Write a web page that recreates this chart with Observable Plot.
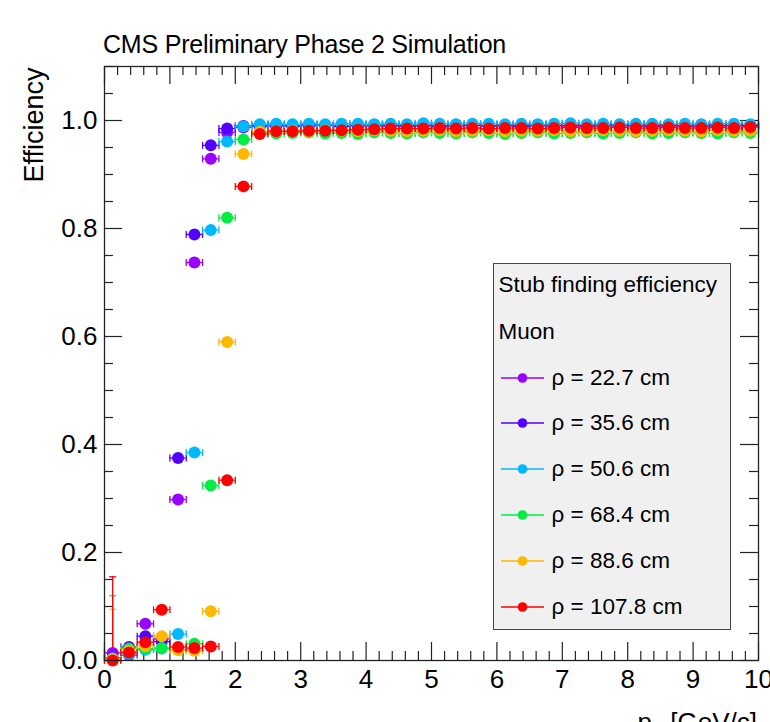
<!DOCTYPE html>
<html>
<head>
<meta charset="utf-8">
<script src="https://cdn.jsdelivr.net/npm/d3@7"></script>
<script src="https://cdn.jsdelivr.net/npm/@observablehq/plot@0.6"></script>
<style>
  html, body { margin: 0; padding: 0; background: #fff; overflow: hidden; }
  #wrap { position: relative; width: 770px; height: 722px; font-family: "Liberation Sans", Arial, Helvetica, sans-serif; color: #000; }
  #title { position: absolute; left: 103px; top: 32px; font-size: 25px; line-height: 25px; white-space: nowrap; letter-spacing: -0.2px; }
  #xlab { position: absolute; right: 13px; top: 709px; font-size: 26px; line-height: 26px; white-space: nowrap; }
  #xlab sub { font-size: 18px; vertical-align: -6px; line-height: 0; }
  #legend { position: absolute; left: 493px; top: 263px; width: 238px; height: 367px; box-sizing: border-box; background: #f0f0f0; border: 1.5px solid #444; }
  .lrow { position: absolute; font-size: 22.5px; line-height: 26px; white-space: nowrap; }
  .lsw { position: absolute; }
</style>
</head>
<body>
<div id="wrap">
  <div id="chart"></div>
  <div id="title">CMS Preliminary Phase 2 Simulation</div>
  <div id="xlab">p<sub>T</sub> [GeV/c]</div>
  <div id="legend"></div>
</div>
<script>
// ---- data ----
const pT = [
  0.125, 0.375, 0.625, 0.875, 1.125, 1.375, 1.625, 1.875, 2.125, 2.375,
  2.625, 2.875, 3.125, 3.375, 3.625, 3.875, 4.125, 4.375, 4.625, 4.875,
  5.125, 5.375, 5.625, 5.875, 6.125, 6.375, 6.625, 6.875, 7.125, 7.375,
  7.625, 7.875, 8.125, 8.375, 8.625, 8.875, 9.125, 9.375, 9.625, 9.875
];
const binHalfWidth = 0.125;
const radii = [22.7, 35.6, 50.6, 68.4, 88.6, 107.8];
const colors = ["#9a00ff", "#5200ff", "#00b8ff", "#00ee44", "#ffb800", "#ff0000"];

const eff_22_7 = [
  0.014, 0.010, 0.068, 0.040, 0.298, 0.737, 0.929, 0.978, 0.987, 0.989,
  0.990, 0.989, 0.990, 0.991, 0.989, 0.990, 0.990, 0.991, 0.989, 0.990,
  0.990, 0.989, 0.991, 0.990, 0.990, 0.989, 0.990, 0.991, 0.990, 0.989,
  0.990, 0.990, 0.991, 0.989, 0.990, 0.990, 0.989, 0.990, 0.991, 0.990
];
const eff_35_6 = [
  0.005, 0.025, 0.045, 0.035, 0.375, 0.789, 0.954, 0.985, 0.990, 0.991,
  0.991, 0.990, 0.992, 0.991, 0.990, 0.991, 0.992, 0.990, 0.991, 0.991,
  0.990, 0.992, 0.991, 0.990, 0.991, 0.991, 0.992, 0.990, 0.991, 0.990,
  0.991, 0.992, 0.990, 0.991, 0.991, 0.990, 0.992, 0.991, 0.990, 0.991
];
const eff_50_6 = [
  0.004, 0.012, 0.020, 0.022, 0.049, 0.385, 0.797, 0.961, 0.989, 0.993,
  0.994, 0.993, 0.994, 0.993, 0.994, 0.994, 0.993, 0.994, 0.993, 0.995,
  0.994, 0.993, 0.994, 0.994, 0.993, 0.994, 0.993, 0.994, 0.995, 0.993,
  0.994, 0.993, 0.994, 0.994, 0.993, 0.994, 0.993, 0.994, 0.994, 0.993
];
const eff_68_4 = [
  0.002, 0.022, 0.022, 0.023, 0.020, 0.031, 0.324, 0.820, 0.965, 0.978,
  0.976, 0.977, 0.978, 0.976, 0.977, 0.975, 0.978, 0.977, 0.976, 0.978,
  0.977, 0.976, 0.978, 0.977, 0.975, 0.977, 0.978, 0.976, 0.977, 0.978,
  0.976, 0.977, 0.978, 0.976, 0.977, 0.978, 0.977, 0.976, 0.978, 0.977
];
const eff_88_6 = [
  0.003, 0.018, 0.027, 0.045, 0.019, 0.018, 0.091, 0.590, 0.938, 0.979,
  0.980, 0.981, 0.980, 0.982, 0.981, 0.980, 0.982, 0.981, 0.980, 0.981,
  0.982, 0.980, 0.981, 0.982, 0.980, 0.981, 0.981, 0.982, 0.980, 0.981,
  0.982, 0.981, 0.980, 0.981, 0.982, 0.981, 0.980, 0.982, 0.981, 0.981
];
const eff_107_8 = [
  0.000, 0.015, 0.034, 0.094, 0.025, 0.023, 0.026, 0.334, 0.878, 0.975,
  0.980, 0.980, 0.981, 0.981, 0.982, 0.983, 0.984, 0.985, 0.985, 0.985,
  0.986, 0.985, 0.986, 0.985, 0.986, 0.986, 0.985, 0.986, 0.987, 0.986,
  0.986, 0.987, 0.986, 0.986, 0.987, 0.986, 0.986, 0.987, 0.986, 0.988
];
const seriesValues = [eff_22_7, eff_35_6, eff_50_6, eff_68_4, eff_88_6, eff_107_8];

// large vertical uncertainty in the first bin (upper end)
const firstBinErrSeries = [3, 4, 5];
const firstBinErrUpper = [0.120, 0.095, 0.155];

const xMajor = [0, 1, 2, 3, 4, 5, 6, 7, 8, 9, 10];
const yMajor = [0, 0.2, 0.4, 0.6, 0.8, 1.0];
const legendTitle = "Stub finding efficiency";
const legendSub = "Muon";
const yTitle = "Efficiency";

// ---- layout ----
const W = 770, H = 722, mt = 66, mb = 62, ml = 104, mr = 12;
const ph = H - mt - mb, pw = W - ml - mr;
const majorLen = 18, minorLen = 9;
const xMinor = d3.range(0, 10.0001, 0.2).filter(v => Math.abs(v - Math.round(v)) > 1e-6);
const yMinor = d3.range(0, 1.1001, 0.05).filter(v => Math.abs(v * 5 - Math.round(v * 5)) > 1e-6);

const vbar = { draw(ctx, size) { const h = Math.sqrt(size / Math.PI); ctx.moveTo(0, -h); ctx.lineTo(0, h); } };
const hbar = { draw(ctx, size) { const h = Math.sqrt(size / Math.PI); ctx.moveTo(-h, 0); ctx.lineTo(h, 0); } };

const marks = [];
// ticks (ROOT style, inward on all sides)
marks.push(Plot.tickX(xMajor, { x: d => d, insetTop: ph - majorLen, stroke: "#222", strokeWidth: 1.2 }));
marks.push(Plot.tickX(xMajor, { x: d => d, insetBottom: ph - majorLen, stroke: "#222", strokeWidth: 1.2 }));
marks.push(Plot.tickX(xMinor, { x: d => d, insetTop: ph - minorLen, stroke: "#222", strokeWidth: 1.2 }));
marks.push(Plot.tickX(xMinor, { x: d => d, insetBottom: ph - minorLen, stroke: "#222", strokeWidth: 1.2 }));
marks.push(Plot.tickY(yMajor, { y: d => d, insetRight: pw - majorLen, stroke: "#222", strokeWidth: 1.2 }));
marks.push(Plot.tickY(yMajor, { y: d => d, insetLeft: pw - majorLen, stroke: "#222", strokeWidth: 1.2 }));
marks.push(Plot.tickY(yMinor, { y: d => d, insetRight: pw - minorLen, stroke: "#222", strokeWidth: 1.2 }));
marks.push(Plot.tickY(yMinor, { y: d => d, insetLeft: pw - minorLen, stroke: "#222", strokeWidth: 1.2 }));

// vertical error bars of the first bin
firstBinErrSeries.forEach((s, k) => {
  const row = [{ x: pT[0], y: seriesValues[s][0], up: firstBinErrUpper[k] }];
  marks.push(Plot.ruleX(row, { x: "x", y1: "y", y2: "up", stroke: colors[s], strokeWidth: 1.3 }));
  marks.push(Plot.dot(row, { x: "x", y: "up", symbol: hbar, r: 3.5, stroke: colors[s], strokeWidth: 1.3 }));
});

seriesValues.forEach((vals, i) => {
  const rows = pT.map((x, j) => ({ x, y: vals[j] }));
  marks.push(Plot.ruleY(rows, { y: "y", x1: d => d.x - binHalfWidth, x2: d => d.x + binHalfWidth, stroke: colors[i], strokeWidth: 1.3 }));
  marks.push(Plot.dot(rows, { x: d => d.x - binHalfWidth, y: "y", symbol: vbar, r: 3.5, stroke: colors[i], strokeWidth: 1.3 }));
  marks.push(Plot.dot(rows, { x: d => d.x + binHalfWidth, y: "y", symbol: vbar, r: 3.5, stroke: colors[i], strokeWidth: 1.3 }));
  marks.push(Plot.dot(rows, { x: "x", y: "y", r: 6, fill: colors[i], stroke: "none" }));
});

marks.push(Plot.frame({ stroke: "#222", strokeWidth: 1.3 }));
marks.push(Plot.axisX({ ticks: xMajor, tickSize: 0, tickPadding: 9, fontSize: 26, label: null, tickFormat: d => String(d) }));
marks.push(Plot.axisY({ ticks: yMajor, tickSize: 0, tickPadding: 7, fontSize: 26, label: null, tickFormat: d3.format(".1f") }));
marks.push(Plot.text([yTitle], { frameAnchor: "top-left", rotate: -90, textAnchor: "end", dx: -81, dy: 1, fontSize: 27, fill: "#000" }));

const chart = Plot.plot({
  width: W, height: H,
  marginTop: mt, marginBottom: mb, marginLeft: ml, marginRight: mr,
  x: { domain: [0, 10] },
  y: { domain: [0, 1.1] },
  style: { fontFamily: "'Liberation Sans', Arial, Helvetica, sans-serif", color: "#000", background: "#fff", overflow: "visible" },
  marks
});
document.getElementById("chart").appendChild(chart);

// ---- legend (inside the frame, as in the reference) ----
const legend = document.getElementById("legend");
const boxLeft = 493, boxTop = 263;
const rowCenters = [285, 332, 378, 423.5, 469, 515, 561, 607];
function addText(txt, left, center) {
  const d = document.createElement("div");
  d.className = "lrow";
  d.textContent = txt;
  d.style.left = (left - boxLeft - 1.5) + "px";
  d.style.top = (center - 13 - boxTop - 1.5) + "px";
  legend.appendChild(d);
}
addText(legendTitle, 499, rowCenters[0]);
addText(legendSub, 499, rowCenters[1]);
radii.forEach((r, i) => {
  const c = rowCenters[i + 2];
  const sw = document.createElementNS("http://www.w3.org/2000/svg", "svg");
  sw.setAttribute("class", "lsw");
  sw.setAttribute("width", 44); sw.setAttribute("height", 14);
  sw.style.left = (501 - boxLeft - 1.5) + "px";
  sw.style.top = (c - 7 - boxTop - 1.5) + "px";
  sw.innerHTML = `<line x1="0" x2="43" y1="7" y2="7" stroke="${colors[i]}" stroke-width="1.3"/><circle cx="21.5" cy="7" r="4.8" fill="${colors[i]}"/>`;
  legend.appendChild(sw);
  addText(`ρ = ${r} cm`, 552, c);
});
</script>
</body>
</html>
